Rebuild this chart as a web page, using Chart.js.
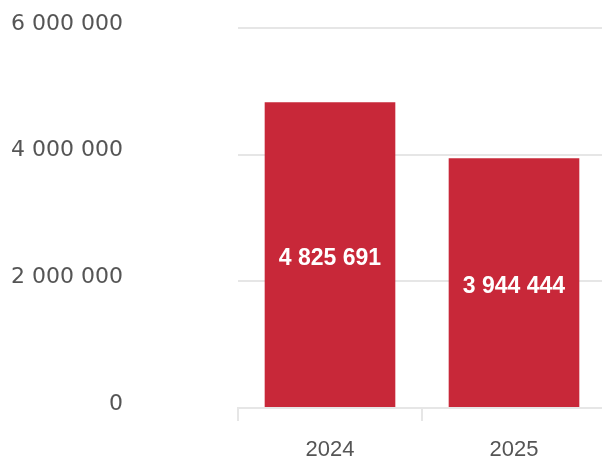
<!DOCTYPE html>
<html>
<head>
<meta charset="utf-8">
<script src="https://cdn.jsdelivr.net/npm/chart.js@4/dist/chart.umd.min.js"></script>
<style>
    html, body { margin: 0; padding: 0; background: #ffffff; overflow: hidden; }
    #wrap { width: 606px; height: 463px; }
</style>
</head>
<body>
<div id="wrap"><canvas id="barChart"></canvas></div>
<script>
// values
const years = ['2024', '2025'];
const totals = [4825691, 3944444];
const yTicks = [0, 2000000, 4000000, 6000000];

const barColor = 'rgb(200, 40, 57)';
const gridColor = '#e6e6e6';

// "4825691" -> "4 825 691"
function spaced(v) {
    return String(Math.round(v)).replace(/\B(?=(\d{3})+(?!\d))/g, ' ');
}

// values written in the middle of each bar
const barLabels = {
    id: 'barLabels',
    afterDatasetsDraw(chart) {
        const ctx = chart.ctx;
        const meta = chart.getDatasetMeta(0);
        ctx.save();
        ctx.fillStyle = '#ffffff';
        ctx.font = 'bold 23px "Liberation Sans", Arial, sans-serif';
        ctx.textAlign = 'center';
        ctx.textBaseline = 'middle';
        meta.data.forEach((bar, i) => {
            const mid = (bar.y + bar.base) / 2;
            ctx.fillText(spaced(totals[i]), bar.x, mid + 4);
        });
        ctx.restore();
    }
};

new Chart(document.getElementById('barChart'), {
    type: 'bar',
    data: {
        labels: years,
        datasets: [{
            data: totals,
            backgroundColor: barColor,
            borderWidth: 0,
            barPercentage: 0.71,
            categoryPercentage: 1
        }]
    },
    options: {
        responsive: true,
        maintainAspectRatio: false,
        animation: false,
        layout: { padding: { top: 28, right: 0, bottom: 0, left: 0 } },
        plugins: {
            legend: { display: false },
            tooltip: { enabled: false }
        },
        scales: {
            x: {
                offset: true,
                afterFit(scale) {
                    scale.height = 55;
                },
                grid: {
                    drawOnChartArea: false,
                    color: gridColor,
                    lineWidth: 2,
                    tickLength: 13
                },
                border: { color: gridColor, width: 2 },
                ticks: {
                    color: '#555',
                    padding: 16,
                    font: { family: '"Liberation Sans", Arial, sans-serif', size: 22 }
                }
            },
            y: {
                min: 0,
                max: yTicks[yTicks.length - 1],
                afterBuildTicks(scale) {
                    scale.ticks = yTicks.map(v => ({ value: v }));
                },
                afterFit(scale) {
                    scale.width = 238;
                    scale.paddingTop = 0;
                    scale.paddingBottom = 0;
                },
                grid: {
                    color: gridColor,
                    lineWidth: 2,
                    tickLength: 115,
                    tickColor: 'rgba(0,0,0,0)'
                },
                border: { display: false },
                ticks: {
                    color: '#555',
                    padding: 0,
                    labelOffset: -4,
                    font: { family: '"DejaVu Sans", sans-serif', size: 22 },
                    callback: v => spaced(v)
                }
            }
        }
    },
    plugins: [barLabels]
});
</script>
</body>
</html>
